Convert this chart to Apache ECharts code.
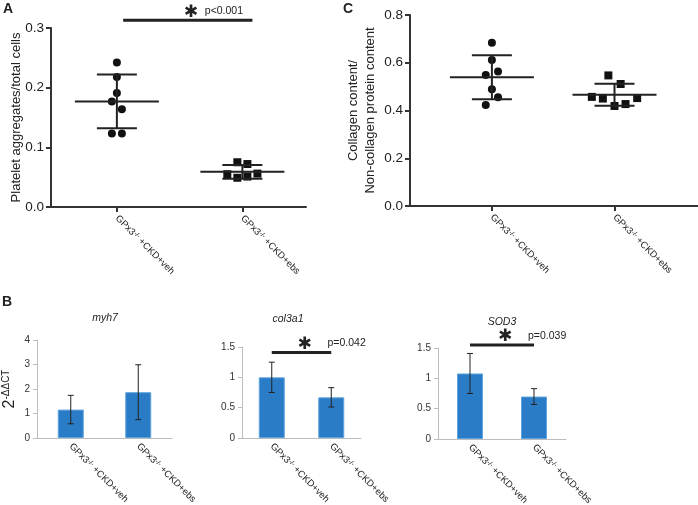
<!DOCTYPE html>
<html>
<head>
<meta charset="utf-8">
<title>GPx3 figure</title>
<script src="https://cdn.jsdelivr.net/npm/echarts@6/dist/echarts.min.js"></script>
<style>
  html, body { margin: 0; padding: 0; background: #fff; }
  #chart { width: 698px; height: 505px; }
</style>
</head>
<body>
<div id="chart"></div>
<script>
(function () {
  // data
  var categories = ['GPx3-/- +CKD+veh', 'GPx3-/- +CKD+ebs'];

  // A: platelet aggregates / total cells
  var plateletVeh = [0.242, 0.218, 0.191, 0.177, 0.164, 0.123, 0.123];
  var plateletEbs = [0.075, 0.072, 0.055, 0.049, 0.051, 0.056];
  var plateletMean = [0.177, 0.059];
  var plateletSd = [0.045, 0.0115];

  // C: collagen / non-collagen protein
  var collagenVeh = [0.684, 0.612, 0.549, 0.563, 0.489, 0.455, 0.423];
  var collagenEbs = [0.547, 0.511, 0.457, 0.450, 0.419, 0.427, 0.452];
  var collagenMean = [0.539, 0.466];
  var collagenSd = [0.092, 0.046];

  // B: 2^-ddCT
  var myh7Values = [1.16, 1.87];
  var myh7Err = [0.58, 1.12];
  var col3a1Values = [1.0, 0.67];
  var col3a1Err = [0.25, 0.16];
  var sod3Values = [1.08, 0.70];
  var sod3Err = [0.33, 0.13];

  // layout only: horizontal scatter spread of the dots (GraphPad style)
  var JITTER_A = [[0, 0, 0, -0.04, 0.04, -0.04, 0.04], [-0.04, 0.04, -0.12, -0.04, 0.04, 0.12]];
  var JITTER_C = [[0, 0, -0.05, 0.05, 0, 0.05, -0.05], [-0.05, 0.05, -0.185, -0.095, 0, 0.09, 0.185]];

  var DARK = '#222';
  var BAR_BLUE = '#2b7cc6';
  var GRAY_AXIS = '#bdbdbd';
  var FONT = 'Liberation Sans, Arial, sans-serif';

  var chart = echarts.init(document.getElementById('chart'), null, { renderer: 'canvas' });

  function catLabel(name) {
    return name.replace('-/-', '{s|-/-}');
  }
  var labelRich = { s: { fontSize: 6.5, verticalAlign: 'top', color: DARK, fontFamily: FONT } };

  function dots(values, jitter, groupX) {
    return values.map(function (v, i) {
      return [groupX + jitter[i], v];
    });
  }

  function meanSdItem(params, api) {
    var x = api.value(0);
    var m = api.value(1);
    var sd = api.value(2);
    var c = api.coord([x, m]);
    var top = api.coord([x, m + sd]);
    var bot = api.coord([x, m - sd]);
    var st = { stroke: DARK, lineWidth: 2 };
    return {
      type: 'group',
      children: [
        { type: 'line', shape: { x1: c[0] - 42, y1: c[1], x2: c[0] + 42, y2: c[1] }, style: st },
        { type: 'line', shape: { x1: c[0], y1: top[1], x2: c[0], y2: bot[1] }, style: st },
        { type: 'line', shape: { x1: c[0] - 20, y1: top[1], x2: c[0] + 20, y2: top[1] }, style: st },
        { type: 'line', shape: { x1: c[0] - 20, y1: bot[1], x2: c[0] + 20, y2: bot[1] }, style: st },
      ],
    };
  }

  function errItem(params, api) {
    var x = api.value(0);
    var v = api.value(1);
    var e = api.value(2);
    var top = api.coord([x, v + e]);
    var bot = api.coord([x, v - e]);
    var st = { stroke: DARK, lineWidth: 1 };
    return {
      type: 'group',
      children: [
        { type: 'line', shape: { x1: top[0], y1: top[1], x2: bot[0], y2: bot[1] }, style: st },
        { type: 'line', shape: { x1: top[0] - 3, y1: top[1], x2: top[0] + 3, y2: top[1] }, style: st },
        { type: 'line', shape: { x1: bot[0] - 3, y1: bot[1], x2: bot[0] + 3, y2: bot[1] }, style: st },
      ],
    };
  }

  // bracket: [x1, x2, y] in data units, star + p text above it
  function bracketItem(pText, pDx) {
    return function (params, api) {
      var a = api.coord([api.value(0), api.value(2)]);
      var b = api.coord([api.value(1), api.value(2)]);
      var mid = (a[0] + b[0]) / 2 + 3;
      return {
        type: 'group',
        children: [
          { type: 'line', shape: { x1: a[0], y1: a[1], x2: b[0], y2: a[1] }, style: { stroke: DARK, lineWidth: 3 } },
          {
            type: 'text',
            x: mid, y: a[1] - 8,
            style: { text: '\u2731', fill: DARK, fontSize: 17, fontFamily: 'DejaVu Sans', textAlign: 'center', textVerticalAlign: 'middle' },
          },
          {
            type: 'text',
            x: mid + pDx, y: a[1] - 9,
            style: { text: pText, fill: DARK, fontSize: 10.5, fontFamily: FONT, textAlign: 'left', textVerticalAlign: 'middle' },
          },
        ],
      };
    };
  }

  function scatterXAxis(gridIndex, min, max) {
    return {
      gridIndex: gridIndex,
      type: 'value',
      min: min,
      max: max,
      axisLine: { lineStyle: { color: '#333', width: 2 } },
      axisTick: { customValues: [1, 2], length: 5, lineStyle: { color: '#333', width: 2 } },
      axisLabel: {
        customValues: [1, 2],
        rotate: -45,
        margin: 10,
        fontSize: 9.5,
        color: DARK,
        fontFamily: FONT,
        formatter: function (v) {
          return catLabel(categories[Math.round(v) - 1]);
        },
        rich: labelRich,
      },
      splitLine: { show: false },
    };
  }

  function scatterYAxis(gridIndex, max, interval, name, nameGap) {
    return {
      gridIndex: gridIndex,
      type: 'value',
      min: 0,
      max: max,
      interval: interval,
      name: name,
      nameLocation: 'middle',
      nameGap: nameGap,
      nameMoveOverlap: false,
      nameTextStyle: { fontSize: 13, color: DARK, fontFamily: FONT, lineHeight: 17 },
      axisLine: { show: true, lineStyle: { color: '#333', width: 2 } },
      axisTick: { show: true, length: 5, lineStyle: { color: '#333', width: 2 } },
      axisLabel: {
        fontSize: 13.5,
        color: DARK,
        fontFamily: FONT,
        margin: 7,
        formatter: function (v) { return v.toFixed(1); },
      },
      splitLine: { show: false },
    };
  }

  function barXAxis(gridIndex) {
    return {
      gridIndex: gridIndex,
      type: 'category',
      data: categories,
      axisLine: { lineStyle: { color: GRAY_AXIS, width: 1 } },
      axisTick: { length: 4, lineStyle: { color: GRAY_AXIS } },
      axisLabel: {
        interval: 0,
        rotate: -45,
        margin: 7,
        fontSize: 9.5,
        color: DARK,
        fontFamily: FONT,
        formatter: catLabel,
        rich: labelRich,
      },
    };
  }

  function barYAxis(gridIndex, max, interval) {
    return {
      gridIndex: gridIndex,
      type: 'value',
      min: 0,
      max: max,
      interval: interval,
      axisLine: { show: true, lineStyle: { color: GRAY_AXIS, width: 1 } },
      axisTick: { show: true, length: 4, lineStyle: { color: GRAY_AXIS } },
      axisLabel: { fontSize: 10, color: '#333', fontFamily: FONT, margin: 7 },
      splitLine: { show: false },
    };
  }

  function barSeries(axisIndex, values) {
    return {
      type: 'bar',
      xAxisIndex: axisIndex,
      yAxisIndex: axisIndex,
      data: values,
      barWidth: 26,
      itemStyle: { color: BAR_BLUE, borderColor: '#5fa3de', borderWidth: 1 },
      silent: true,
    };
  }

  function errSeries(axisIndex, values, errs) {
    return {
      type: 'custom',
      xAxisIndex: axisIndex,
      yAxisIndex: axisIndex,
      renderItem: errItem,
      data: values.map(function (v, i) { return [i, v, errs[i]]; }),
      z: 5,
    };
  }

  var myh7YAxis = barYAxis(2, 4, 1);
  myh7YAxis.name = '{b|2}{s|-\u0394\u0394CT}';
  myh7YAxis.nameLocation = 'middle';
  myh7YAxis.nameGap = 19;
  myh7YAxis.nameMoveOverlap = false;
  myh7YAxis.nameTextStyle = {
    rich: {
      b: { fontSize: 16, color: DARK, fontFamily: FONT, verticalAlign: 'bottom' },
      s: { fontSize: 10, color: DARK, fontFamily: FONT, verticalAlign: 'bottom', padding: [0, 0, 7, 0] },
    },
  };

  var scatterStyle = { color: '#111', opacity: 1 };

  function grid(left, top, width, height) {
    return { left: left, top: top, width: width, height: height, outerBoundsMode: 'none', containLabel: false };
  }

  var option = {
    backgroundColor: '#fff',
    animation: false,
    grid: [
      grid(51, 28, 255, 179),
      grid(410, 15, 288, 191),
      grid(37, 340, 135, 98),
      grid(242, 347, 119, 91),
      grid(438, 348, 128, 91),
    ],
    xAxis: [
      scatterXAxis(0, 0.475, 2.507),
      scatterXAxis(1, 0.332, 2.681),
      barXAxis(2),
      barXAxis(3),
      barXAxis(4),
    ],
    yAxis: [
      scatterYAxis(0, 0.3, 0.1, 'Platelet aggregates/total cells', 26),
      scatterYAxis(1, 0.8, 0.2, 'Collagen content/\nNon-collagen protein content', 31),
      myh7YAxis,
      barYAxis(3, 1.5, 0.5),
      barYAxis(4, 1.5, 0.5),
    ],
    series: [
      // A
      {
        type: 'scatter', xAxisIndex: 0, yAxisIndex: 0, symbol: 'circle', symbolSize: 8,
        itemStyle: scatterStyle, data: dots(plateletVeh, JITTER_A[0], 1),
      },
      {
        type: 'scatter', xAxisIndex: 0, yAxisIndex: 0, symbol: 'rect', symbolSize: 8,
        itemStyle: scatterStyle, data: dots(plateletEbs, JITTER_A[1], 2),
      },
      {
        type: 'custom', xAxisIndex: 0, yAxisIndex: 0, renderItem: meanSdItem, z: 4,
        data: [[1, plateletMean[0], plateletSd[0]], [2, plateletMean[1], plateletSd[1]]],
      },
      {
        type: 'custom', xAxisIndex: 0, yAxisIndex: 0, renderItem: bracketItem('p<0.001', 14),
        data: [[1.05, 2.08, 0.313]],
      },
      // C
      {
        type: 'scatter', xAxisIndex: 1, yAxisIndex: 1, symbol: 'circle', symbolSize: 8,
        itemStyle: scatterStyle, data: dots(collagenVeh, JITTER_C[0], 1),
      },
      {
        type: 'scatter', xAxisIndex: 1, yAxisIndex: 1, symbol: 'rect', symbolSize: 8,
        itemStyle: scatterStyle, data: dots(collagenEbs, JITTER_C[1], 2),
      },
      {
        type: 'custom', xAxisIndex: 1, yAxisIndex: 1, renderItem: meanSdItem, z: 4,
        data: [[1, collagenMean[0], collagenSd[0]], [2, collagenMean[1], collagenSd[1]]],
      },
      // B
      barSeries(2, myh7Values),
      errSeries(2, myh7Values, myh7Err),
      barSeries(3, col3a1Values),
      errSeries(3, col3a1Values, col3a1Err),
      {
        type: 'custom', xAxisIndex: 3, yAxisIndex: 3, renderItem: bracketItem('p=0.042', 23),
        data: [[0, 1, 1.41]],
      },
      barSeries(4, sod3Values),
      errSeries(4, sod3Values, sod3Err),
      {
        type: 'custom', xAxisIndex: 4, yAxisIndex: 4, renderItem: bracketItem('p=0.039', 23),
        data: [[0, 1, 1.55]],
      },
    ],
    graphic: [
      { type: 'text', x: 3, y: 2, style: { text: 'A', fontSize: 14, fontWeight: 'bold', fill: DARK, fontFamily: FONT } },
      { type: 'text', x: 343, y: 2, style: { text: 'C', fontSize: 14, fontWeight: 'bold', fill: DARK, fontFamily: FONT } },
      { type: 'text', x: 2, y: 295, style: { text: 'B', fontSize: 14, fontWeight: 'bold', fill: DARK, fontFamily: FONT } },
      { type: 'text', x: 105, y: 318, style: { text: 'myh7', fontSize: 10.5, fontStyle: 'italic', fill: DARK, fontFamily: FONT, textAlign: 'center', textVerticalAlign: 'middle' } },
      { type: 'text', x: 288, y: 319, style: { text: 'col3a1', fontSize: 10.5, fontStyle: 'italic', fill: DARK, fontFamily: FONT, textAlign: 'center', textVerticalAlign: 'middle' } },
      { type: 'text', x: 502, y: 322, style: { text: 'SOD3', fontSize: 10.5, fontStyle: 'italic', fill: DARK, fontFamily: FONT, textAlign: 'center', textVerticalAlign: 'middle' } },
    ],
  };

  chart.setOption(option);
})();
</script>
</body>
</html>
